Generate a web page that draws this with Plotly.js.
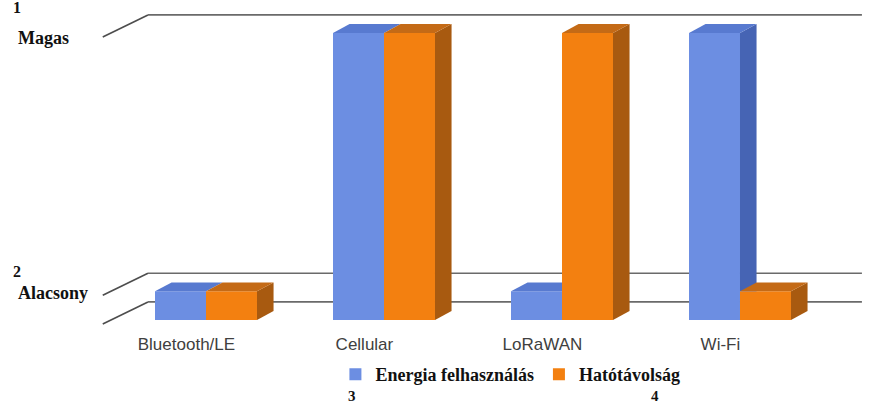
<!DOCTYPE html>
<html><head><meta charset="utf-8">
<script src="https://cdn.plot.ly/plotly-3.0.1.min.js"></script>
<style>html,body{margin:0;padding:0;background:#fff}</style>
</head><body><div id="chart" style="width:877px;height:403px"></div>
<script>
// ---- data ----
const categories = ['Bluetooth/LE', 'Cellular', 'LoRaWAN', 'Wi-Fi'];
const energia = [1, 10, 1, 10];      // Energia felhasználás
const hatotav = [1, 10, 10, 1];      // Hatótávolság
const seriesNames = ['Energia felhasználás', 'Hatótávolság'];
const levelValues = [0, 1, 10];      // floor, Alacsony, Magas
const levelNames = ['Alacsony', 'Magas'];
const levelNumbers = ['2', '1'];
const footNumbers = ['3', '4'];

// ---- styling / geometry ----
const W = 0.2865;         // bar width (category units)
const DX = 0.093, DY = 0.31;   // 3D depth of bars
const frontFace = ['#6c8ee2', '#f38010'];
const sideFace  = ['#4664b4', '#a85a10'];
const topFace   = ['#587ad0', '#c46a16'];
const idx = categories.map((c, i) => i);

const traces = [];
traces.push({type: 'bar', x: idx, y: energia, width: W, offset: -W, name: seriesNames[0],
  marker: {color: frontFace[0], line: {width: 0}}, hoverinfo: 'skip'});
traces.push({type: 'bar', x: idx, y: hatotav, width: W, offset: 0, name: seriesNames[1],
  marker: {color: frontFace[1], line: {width: 0}}, hoverinfo: 'skip'});

function poly(xs, ys, color) {
  traces.push({type: 'scatter', mode: 'lines', x: xs.concat([xs[0]]), y: ys.concat([ys[0]]),
    fill: 'toself', fillcolor: color, line: {width: 0, color: color},
    showlegend: false, hoverinfo: 'skip'});
}

idx.forEach(i => {
  const vb = energia[i], vo = hatotav[i];
  const x0 = i - W, x1 = i, x2 = i + W;
  // blue side (only the part above the orange bar)
  if (vo < vb) {
    poly([x1, x1, x1 + DX, x1 + DX], [vo, vb, vb + DY, vo], sideFace[0]);
  }
  // blue top
  if (vo >= vb + DY) {
    poly([x0, x0 + DX, x1, x1], [vb, vb + DY, vb + DY, vb], topFace[0]);
  } else {
    poly([x0, x0 + DX, x1 + DX, x1], [vb, vb + DY, vb + DY, vb], topFace[0]);
  }
  // orange side and top
  poly([x2, x2 + DX, x2 + DX, x2], [0, DY, vo + DY, vo], sideFace[1]);
  poly([x1, x1 + DX, x2 + DX, x2], [vo, vo + DY, vo + DY, vo], topFace[1]);
});

// ---- back wall grid lines ----
const wallX0 = -0.326, wallX1 = 3.685, frontX = -0.58;
const gridFrontOff = -0.14, gridBackOff = 0.63;
const shapes = [];
levelValues.forEach(v => {
  shapes.push({type: 'line', xref: 'x', yref: 'y', layer: 'below',
    x0: frontX, y0: v + gridFrontOff, x1: wallX0, y1: v + gridBackOff,
    line: {color: '#4d4d4d', width: 1.6}});
  shapes.push({type: 'line', xref: 'x', yref: 'y', layer: 'below',
    x0: wallX0, y0: v + gridBackOff, x1: wallX1, y1: v + gridBackOff,
    line: {color: '#6a6a6a', width: 1.6}});
});

const serif = 'Liberation Serif, Times New Roman, serif';
const ann = [];
const lvlY = [0.117, 0.886], numY = [0.181, 0.976];
levelNames.forEach((t, k) => {
  ann.push({xref: 'paper', yref: 'paper', x: 16 / 877, y: lvlY[k], xanchor: 'left', yanchor: 'middle',
    text: t, showarrow: false, font: {family: serif, size: 18, weight: 'bold', color: '#111'}});
  ann.push({xref: 'paper', yref: 'paper', x: 11 / 877, y: numY[k], xanchor: 'left', yanchor: 'middle',
    text: levelNumbers[k], showarrow: false, font: {family: serif, size: 16, weight: 'bold', color: '#111'}});
});
const footX = [352 / 877, 655 / 877];
footNumbers.forEach((t, k) => {
  ann.push({xref: 'paper', yref: 'paper', x: footX[k], y: -0.192, xanchor: 'center', yanchor: 'middle',
    text: t, showarrow: false, font: {family: serif, size: 15, weight: 'bold', color: '#111'}});
});

const layout = {
  width: 877, height: 403,
  margin: {l: 0, r: 0, t: 0, b: 71},
  paper_bgcolor: '#fff', plot_bgcolor: '#fff',
  barmode: 'overlay',
  showlegend: true,
  xaxis: {range: [-1.1573, 3.7697], showgrid: false, zeroline: false, showline: false,
    tickmode: 'array', tickvals: idx.map(i => i - 0.11), ticktext: categories, ticks: '',
    tickfont: {family: 'Liberation Sans, Arial, sans-serif', size: 17, color: '#404040'}, fixedrange: true},
  yaxis: {range: [-0.418, 11.15], showgrid: false, zeroline: false, showline: false,
    showticklabels: false, ticks: '', fixedrange: true},
  legend: {orientation: 'h', x: 0.582, xanchor: 'center', y: -0.128, yanchor: 'middle',
    font: {family: serif, size: 18, weight: 'bold', color: '#111'},
    itemwidth: 30, traceorder: 'normal', bgcolor: 'rgba(0,0,0,0)'},
  shapes: shapes,
  annotations: ann
};

Plotly.newPlot('chart', traces, layout, {displayModeBar: false, staticPlot: true});
</script>
</body></html>
